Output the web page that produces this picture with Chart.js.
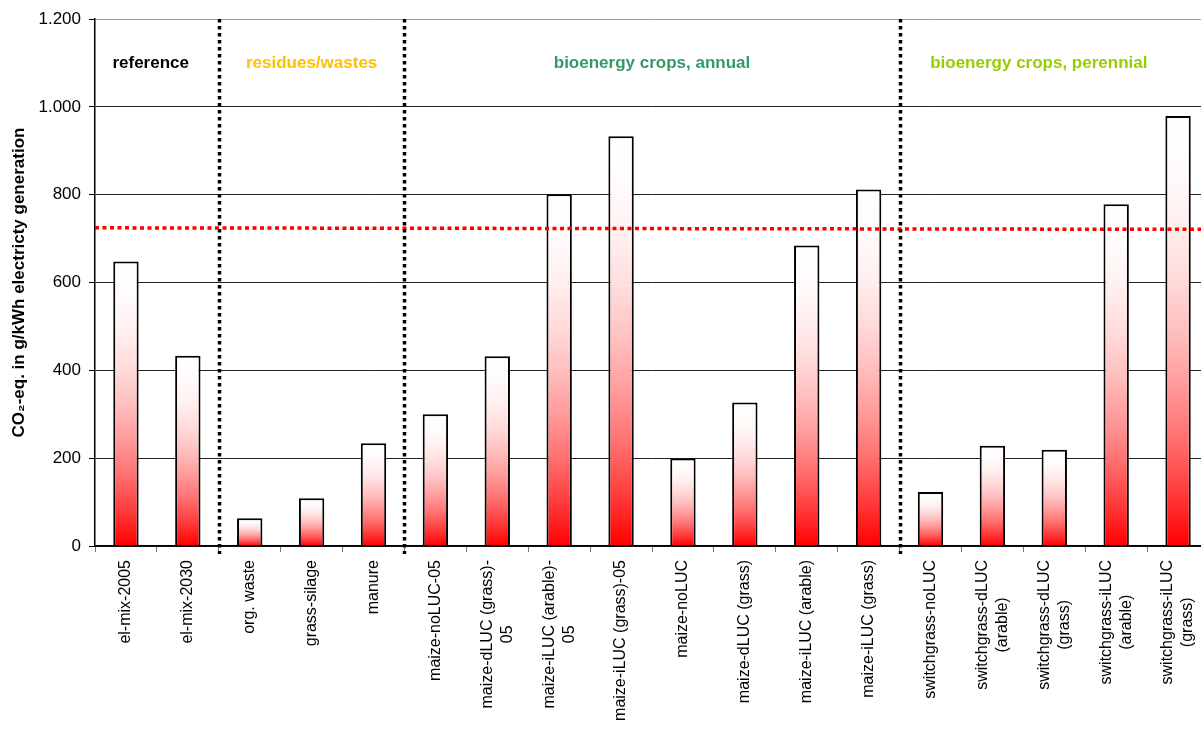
<!DOCTYPE html>
<html>
<head>
<meta charset="utf-8">
<title>CO2-eq. in g/kWh electricity generation</title>
<script src="https://cdn.jsdelivr.net/npm/chart.js@4.4.1/dist/chart.umd.min.js"></script>
<style>
    html, body { margin: 0; padding: 0; background: #fff; overflow: hidden; }
    #wrap { width: 1209px; height: 729px; }
</style>
</head>
<body>
<div id="wrap"><canvas id="co2Chart"></canvas></div>
<script>
// Category labels, one entry per line of the label
const categories = [
    ['el-mix-2005'], ['el-mix-2030'],
    ['org. waste'], ['grass-silage'], ['manure'],
    ['maize-noLUC-05'], ['maize-dLUC (grass)-', '05'], ['maize-iLUC (arable)-', '05'], ['maize-iLUC (grass)-05'],
    ['maize-noLUC'], ['maize-dLUC (grass)'], ['maize-iLUC (arable)'], ['maize-iLUC (grass)'],
    ['switchgrass-noLUC'], ['switchgrass-dLUC', '(arable)'], ['switchgrass-dLUC', '(grass)'],
    ['switchgrass-iLUC', '(arable)'], ['switchgrass-iLUC', '(grass)']
];

// CO2-eq. in g/kWh
const emissions = [648, 433, 63, 109, 234, 300, 432, 801, 933, 199, 327, 684, 812, 123, 228, 219, 778, 979];

// Red dotted reference line (value at left end, value at right end)
const referenceLine = [724.5, 721];

// Groups of categories
const groupNames = ['reference', 'residues/wastes', 'bioenergy crops, annual', 'bioenergy crops, perennial'];
const groupSizes = [2, 3, 8, 5];

// y axis ticks
const yTicks = [0, 200, 400, 600, 800, 1000, 1200];

const FONT = 'Arial, "Liberation Sans", sans-serif';

// group label styling (centre in category units, colour)
const groupLabelCenters = [0.4, 3, 8.5, 14.75];
const groupColors = ['#000000', '#FFC000', '#339966', '#99CC00'];

// Red to white gradient for each bar (bottom red, top white)
function barGradient(context) {
    const chart = context.chart;
    const yScale = chart.scales.y;
    if (context.type !== 'data' || !chart.chartArea || !yScale) return '#ff0000';
    const yBase = yScale.getPixelForValue(0);
    const yTop = yScale.getPixelForValue(emissions[context.dataIndex]);
    const g = chart.ctx.createLinearGradient(0, yBase, 0, yTop);
    for (let i = 0; i <= 8; i++) {
        const t = i / 8;
        const c = Math.round(255 * (1 - (1 - t) * (1 - t)));
        g.addColorStop(t, `rgb(255,${c},${c})`);
    }
    return g;
}

// German number format: 1000 -> 1.000
function formatTick(v) {
    return String(v).replace(/\B(?=(\d{3})+(?!\d))/g, '.');
}

// Draws the group separators, group titles and the rotated x labels
const decorations = {
    id: 'decorations',
    afterDatasetsDraw(chart) {
        const { ctx, chartArea, scales } = chart;
        const x = scales.x;
        const y = scales.y;

        // dotted black separators between groups
        ctx.save();
        ctx.strokeStyle = '#000';
        ctx.lineWidth = 3.5;
        ctx.setLineDash([3.5, 3.5]);
        let pos = -0.5;
        groupSizes.slice(0, -1).forEach((n) => {
            pos += n;
            const px = Math.round(x.getPixelForValue(pos)) + 0.5;
            ctx.beginPath();
            ctx.moveTo(px, chartArea.top);
            ctx.lineTo(px, chartArea.bottom + 8);
            ctx.stroke();
        });
        ctx.restore();

        // group titles
        ctx.save();
        ctx.font = 'bold 17px ' + FONT;
        ctx.textAlign = 'center';
        ctx.textBaseline = 'middle';
        groupNames.forEach((name, i) => {
            ctx.fillStyle = groupColors[i];
            ctx.fillText(name, x.getPixelForValue(groupLabelCenters[i]), y.getPixelForValue(1100));
        });
        ctx.restore();
    },
    afterDraw(chart) {
        const { ctx, chartArea, scales } = chart;
        const x = scales.x;
        const lineGap = 20;
        const top = chartArea.bottom + 14;

        ctx.save();
        ctx.font = '16px ' + FONT;
        ctx.fillStyle = '#000';
        ctx.textAlign = 'center';
        ctx.textBaseline = 'middle';
        categories.forEach((lines, i) => {
            const cx = x.getPixelForValue(i);
            const maxW = Math.max(...lines.map((l) => ctx.measureText(l).width));
            lines.forEach((line, j) => {
                const lx = cx + (j - (lines.length - 1) / 2) * lineGap;
                ctx.save();
                ctx.translate(lx, top + maxW / 2);
                ctx.rotate(-Math.PI / 2);
                ctx.fillText(line, 0, 0);
                ctx.restore();
            });
        });
        ctx.restore();
    }
};

new Chart(document.getElementById('co2Chart'), {
    type: 'bar',
    data: {
        labels: categories,
        datasets: [
            {
                type: 'line',
                data: [{ x: 0, y: referenceLine[0] }, { x: 1, y: referenceLine[1] }],
                xAxisID: 'xLine',
                yAxisID: 'y',
                borderColor: '#ff0000',
                borderWidth: 3.5,
                borderDash: [4, 3.5],
                pointRadius: 0,
                fill: false,
                order: 0
            },
            {
                data: emissions,
                xAxisID: 'x',
                yAxisID: 'y',
                backgroundColor: barGradient,
                borderColor: '#000',
                borderWidth: 2,
                borderSkipped: 'start',
                grouped: false,
                barPercentage: 0.41,
                categoryPercentage: 1,
                order: 1
            }
        ]
    },
    options: {
        responsive: true,
        maintainAspectRatio: false,
        animation: false,
        layout: { padding: { top: 19, right: 0, bottom: 0, left: 0 } },
        plugins: {
            legend: { display: false },
            tooltip: { enabled: false }
        },
        scales: {
            x: {
                offset: true,
                grid: {
                    offset: true,
                    drawOnChartArea: false,
                    drawTicks: true,
                    tickLength: 6,
                    color: '#777'
                },
                border: { color: '#000', width: 1.5 },
                ticks: { display: false },
                afterFit(scale) { scale.height = 183; }
            },
            xLine: {
                type: 'linear',
                display: false,
                offset: false,
                grid: { offset: false },
                min: 0,
                max: 1
            },
            y: {
                min: 0,
                max: 1200,
                afterBuildTicks(scale) { scale.ticks = yTicks.map((v) => ({ value: v })); },
                afterFit(scale) { scale.width = 95; },
                grid: {
                    color: (c) => (c.tick && c.tick.value === 1200 ? '#a0a0a0' : '#222'),
                    tickColor: '#000',
                    tickLength: 6
                },
                border: { color: '#000', width: 1.5 },
                ticks: {
                    padding: 8,
                    color: '#000',
                    font: { family: FONT, size: 17 },
                    callback: (v) => formatTick(v)
                },
                title: {
                    display: true,
                    text: 'CO₂-eq. in g/kWh electricty generation',
                    color: '#000',
                    font: { family: FONT, size: 17, weight: 'bold' },
                    padding: { top: 9, bottom: 0 }
                }
            }
        }
    },
    plugins: [decorations]
});
</script>
</body>
</html>
